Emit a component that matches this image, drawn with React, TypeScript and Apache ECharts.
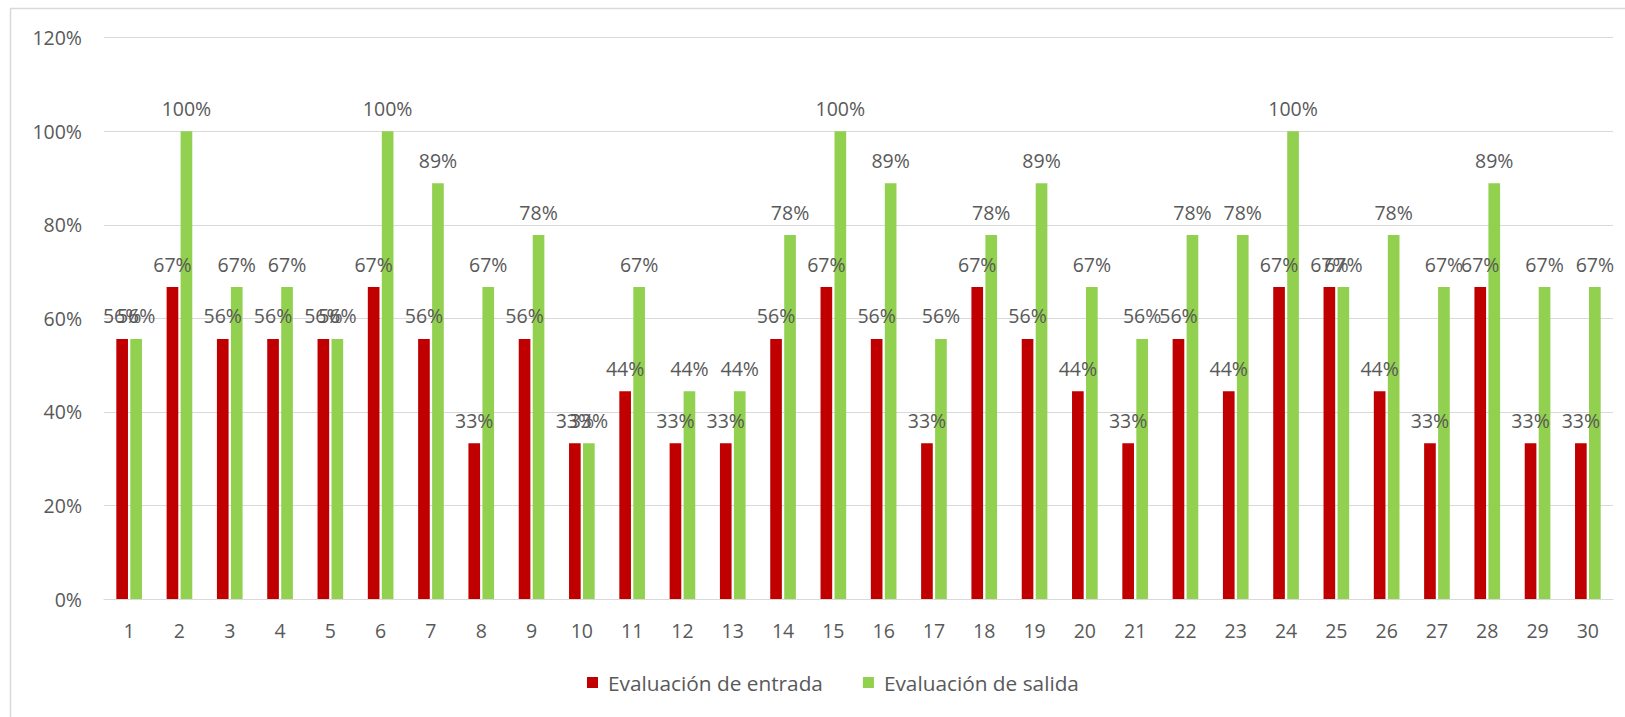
import React, { useEffect, useRef } from "react";
import * as echarts from "echarts";

const categories = ["1","2","3","4","5","6","7","8","9","10","11","12","13","14","15","16","17","18","19","20","21","22","23","24","25","26","27","28","29","30"];
const entrada = [0.556,0.667,0.556,0.556,0.556,0.667,0.556,0.333,0.556,0.333,0.444,0.333,0.333,0.556,0.667,0.556,0.333,0.667,0.556,0.444,0.333,0.556,0.444,0.667,0.667,0.444,0.333,0.667,0.333,0.333];
const salida = [0.556,1.0,0.667,0.667,0.556,1.0,0.889,0.667,0.778,0.333,0.667,0.444,0.444,0.778,1.0,0.889,0.556,0.778,0.889,0.667,0.556,0.778,0.778,1.0,0.667,0.778,0.667,0.889,0.667,0.667];
const seriesNames = ["Evaluación de entrada", "Evaluación de salida"];

const FONT = "'Open Sans', sans-serif";
const TXT = "#595959";
const FS = 19.5;

export default function App() {
  const ref = useRef<HTMLDivElement>(null);
  useEffect(() => {
    const chart = echarts.init(ref.current!, null, { renderer: "svg" });
    const pct = (v: number) => Math.round(v * 100) + "%";
    const label = {
      show: true,
      position: "top",
      distance: 13,
      color: TXT,
      fontSize: FS,
      fontFamily: FONT,
      formatter: (p: any) => pct(p.value),
    };
    chart.setOption({
      animation: false,
      backgroundColor: "#ffffff",
      textStyle: { fontFamily: FONT },
      graphic: [
        {
          type: "rect",
          shape: { x: 10.5, y: 8.5, width: 1700, height: 800 },
          style: { fill: "none", stroke: "#d9d9d9", lineWidth: 1.5 },
          silent: true,
        },
      ],
      grid: { left: 104, right: 12, top: 37.7, bottom: 118, containLabel: false },
      legend: {
        data: seriesNames,
        left: 587,
        top: 672,
        padding: 0,
        itemWidth: 11,
        itemHeight: 11,
        itemGap: 40,
        icon: "rect",
        textStyle: { color: TXT, fontSize: 20.8, fontFamily: FONT, padding: [0, 0, 0, 5] },
      },
      xAxis: {
        type: "category",
        data: categories,
        axisLine: { lineStyle: { color: "#d9d9d9", width: 1 } },
        axisTick: { show: false },
        axisLabel: { color: TXT, fontSize: FS, fontFamily: FONT, margin: 21 },
      },
      yAxis: {
        type: "value",
        min: 0,
        max: 1.2,
        interval: 0.2,
        axisLine: { show: false },
        axisTick: { show: false },
        splitLine: { lineStyle: { color: "#d9d9d9", width: 1 } },
        axisLabel: {
          color: TXT,
          fontSize: FS,
          fontFamily: FONT,
          margin: 22,
          formatter: (v: number) => Math.round(v * 100) + "%",
        },
      },
      series: [
        {
          name: seriesNames[0],
          type: "bar",
          data: entrada,
          itemStyle: { color: "#C00000" },
          barGap: "20%",
          barCategoryGap: "49%",
          label,
        },
        {
          name: seriesNames[1],
          type: "bar",
          data: salida,
          itemStyle: { color: "#92D050" },
          barGap: "20%",
          barCategoryGap: "49%",
          label,
        },
      ],
    });
    return () => chart.dispose();
  }, []);
  return (
    <div
      ref={ref}
      style={{ position: "fixed", left: 0, top: 0, width: 1625, height: 717 }}
    />
  );
}
